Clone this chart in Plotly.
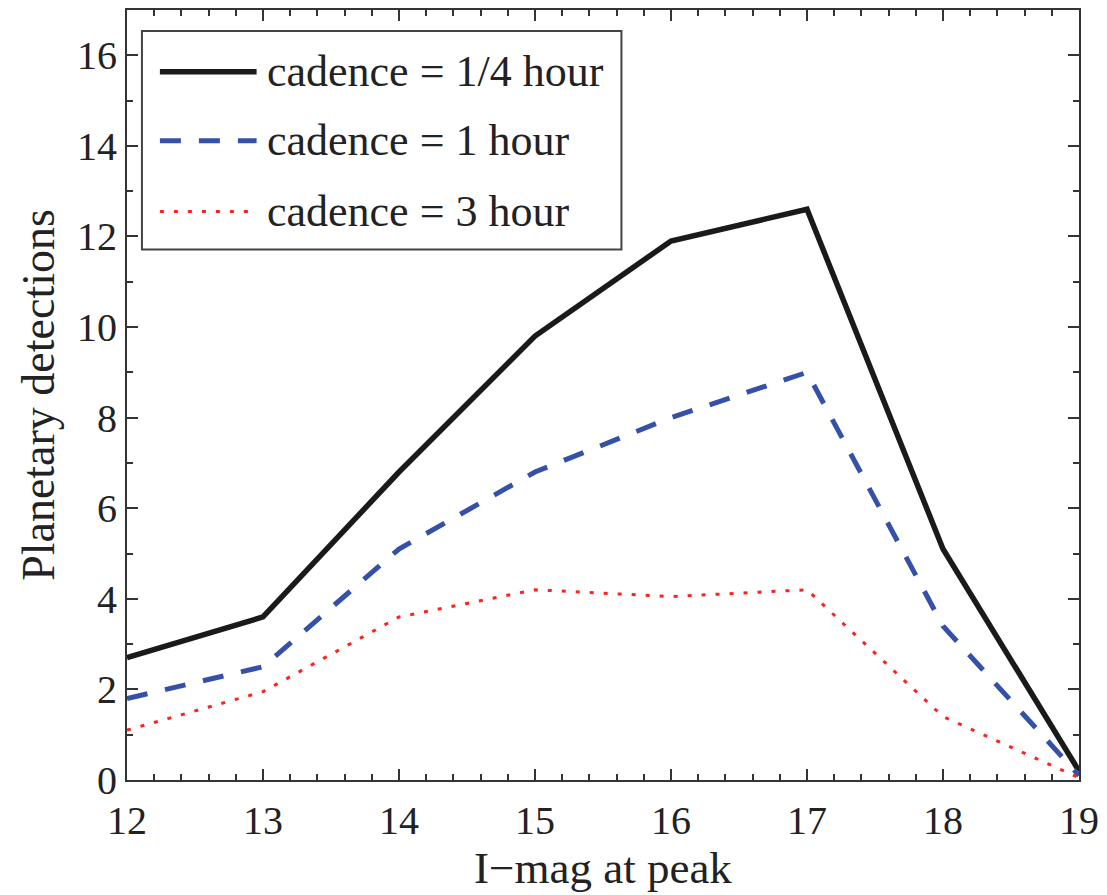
import plotly.graph_objects as go

imag = [12, 13, 14, 15, 16, 17, 18, 19]
cad_quarter = [2.7, 3.6, 6.8, 9.8, 11.9, 12.6, 5.1, 0.2]
cad_one = [1.8, 2.5, 5.1, 6.8, 8.0, 9.0, 3.4, 0.1]
cad_three = [1.1, 1.95, 3.6, 4.2, 4.05, 4.2, 1.4, 0.05]
names = ["cadence = 1/4 hour", "cadence = 1 hour", "cadence = 3 hour"]

W, H = 1107, 895
L, R, T, B = 127, 25, 8, 115
pw, ph = W - L - R, H - T - B

def px(x):
    return (x - L) / pw

def py(y):
    return (H - B - y) / ph

FONT = "Liberation Serif"
styles = [
    dict(color="#1a1a1a", width=5.5, dash="solid"),
    dict(color="#3450a8", width=5, dash="21px,18px"),
    dict(color="#ff2020", width=3, dash="4px,10px"),
]

fig = go.Figure()
for ys, nm, st in zip([cad_quarter, cad_one, cad_three], names, styles):
    fig.add_trace(go.Scatter(x=imag, y=ys, mode="lines", name=nm, line=st, showlegend=False))

shapes = [dict(type="rect", xref="paper", yref="paper", x0=px(142), x1=px(623), y0=py(248), y1=py(29),
               line=dict(color="#444", width=2), fillcolor="white", layer="above")]
annotations = []
leg_y = [70, 139, 210]
for st, nm, yy in zip(styles, names, leg_y):
    shapes.append(dict(type="line", xref="paper", yref="paper", x0=px(160), x1=px(257), y0=py(yy), y1=py(yy),
                       line=st, layer="above"))
    annotations.append(dict(xref="paper", yref="paper", x=px(265), y=py(yy), text=nm, showarrow=False,
                            xanchor="left", yanchor="middle", font=dict(family=FONT, size=44, color="#222")))

axis_common = dict(showline=True, linecolor="#333", linewidth=2, mirror="allticks", ticks="inside",
                   ticklen=11, tickwidth=2, tickcolor="#333", showgrid=False, zeroline=False,
                   tickfont=dict(family=FONT, size=40, color="#222"))

fig.update_layout(
    width=W, height=H, margin=dict(l=L, r=R, t=T, b=B),
    paper_bgcolor="white", plot_bgcolor="white",
    shapes=shapes, annotations=annotations,
    xaxis=dict(range=[12, 19], dtick=1, tick0=12, ticklabelstandoff=4,
               minor=dict(dtick=0.2, ticks="inside", ticklen=6, tickwidth=2, tickcolor="#333"),
               title=dict(text="I\u2212mag at peak", font=dict(family=FONT, size=45, color="#222"), standoff=4),
               **axis_common),
    yaxis=dict(range=[0, 17], dtick=2, tick0=0,
               minor=dict(dtick=1, ticks="inside", ticklen=6, tickwidth=2, tickcolor="#333"),
               title=dict(text="Planetary detections", font=dict(family=FONT, size=46, color="#222"), standoff=8),
               **axis_common),
)

fig.write_html("out.html")
